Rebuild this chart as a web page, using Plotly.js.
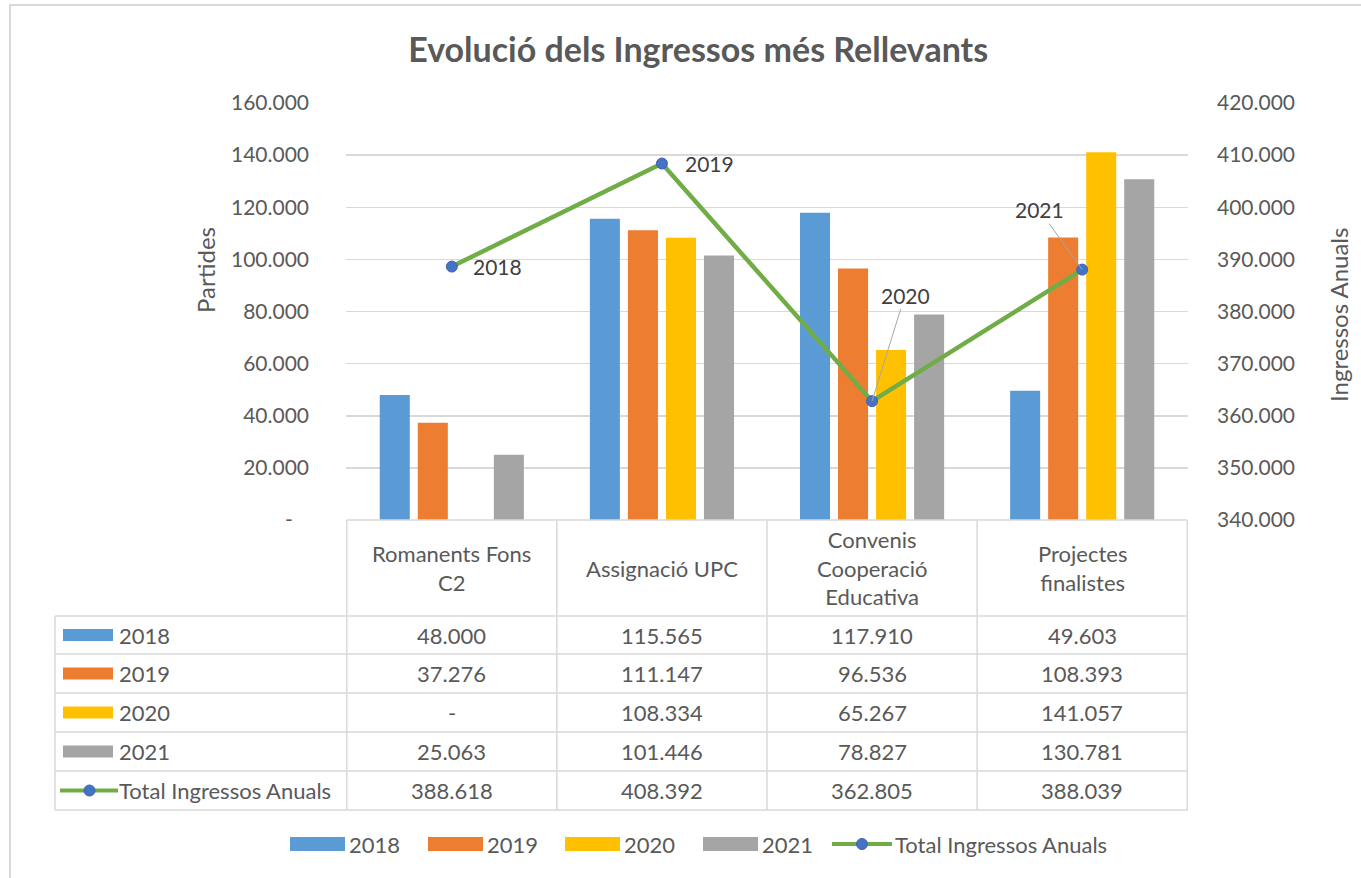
<!DOCTYPE html>
<html><head><meta charset="utf-8">
<script src="https://cdn.plot.ly/plotly-3.0.1.min.js"></script>
<style>html,body{margin:0;padding:0;background:#fff}</style>
</head><body><div id="chart" style="width:1361px;height:878px"></div>
<script>
// ---- data ----
const categories = ['Romanents Fons C2', 'Assignació UPC', 'Convenis Cooperació Educativa', 'Projectes finalistes'];
const headerLabels = ['Romanents Fons<br>C2', 'Assignació UPC', 'Convenis<br>Cooperació<br>Educativa', 'Projectes<br>finalistes'];
const years = ['2018', '2019', '2020', '2021'];
const v2018 = [48000, 115565, 117910, 49603];
const v2019 = [37276, 111147, 96536, 108393];
const v2020 = [0, 108334, 65267, 141057];
const v2021 = [25063, 101446, 78827, 130781];
const totals = [388618, 408392, 362805, 388039];
const totalName = 'Total Ingressos Anuals';
const pointLabels = ['2018', '2019', '2020', '2021'];
const leftTickVals = [0, 20000, 40000, 60000, 80000, 100000, 120000, 140000, 160000];
const leftTickText = ['-\u00a0\u00a0\u00a0', '20.000', '40.000', '60.000', '80.000', '100.000', '120.000', '140.000', '160.000'];
const rightTickVals = [340000, 350000, 360000, 370000, 380000, 390000, 400000, 410000, 420000];
const rightTickText = ['340.000', '350.000', '360.000', '370.000', '380.000', '390.000', '400.000', '410.000', '420.000'];
const title = 'Evolució dels Ingressos més Rellevants';
const leftTitle = 'Partides';
const rightTitle = 'Ingressos Anuals';

// ---- styles ----
const colors = ['#5B9BD5', '#ED7D31', '#FFC000', '#A5A5A5'];
const lineColor = '#70AD47';
const markerColor = '#4472C4';
const gridColor = '#D9D9D9';
const textColor = '#595959';
const FONT = 'Lato, "Open Sans", sans-serif';
const FS = 22;      // table / legend text
const TICKFS = 21;  // tick labels

const W = 1361, H = 878;
const L = 346, R = 1188, T = 103, B = 520;
const px = x => (x - L) / (R - L);
const py = y => (B - y) / (B - T);

const fmt = v => v === 0 ? '-' : v.toLocaleString('de-DE');

const series = [v2018, v2019, v2020, v2021];
const traces = series.map((vals, i) => ({
  type: 'bar', name: years[i], x: categories, y: vals,
  marker: {color: colors[i]}, hoverinfo: 'x+y'
}));
traces.push({
  type: 'scatter', mode: 'lines+markers', name: totalName, x: categories, y: totals, yaxis: 'y2',
  line: {color: lineColor, width: 4.5},
  marker: {color: markerColor, size: 11, line: {color: '#3A64B0', width: 1}}
});

const shapes = [];
const annotations = [];

// outer border
shapes.push({type: 'rect', xref: 'paper', yref: 'paper', x0: px(10), x1: px(1380), y0: py(5), y1: py(900),
  line: {color: '#D9D9D9', width: 2}});

// table grid
const rowEdges = [520, 616, 654, 693, 732, 771, 810];
const tableLeft = 55;
const lineStyle = {color: gridColor, width: 1.5};
shapes.push({type: 'line', xref: 'x', yref: 'paper', x0: -0.5, x1: categories.length - 0.5, y0: py(520), y1: py(520), line: lineStyle});
for (let r = 1; r < rowEdges.length; r++) {
  shapes.push({type: 'line', xref: 'paper', yref: 'paper', x0: px(tableLeft), x1: 1, y0: py(rowEdges[r]), y1: py(rowEdges[r]), line: lineStyle});
}
shapes.push({type: 'line', xref: 'paper', yref: 'paper', x0: px(tableLeft), x1: px(tableLeft), y0: py(616), y1: py(810), line: lineStyle});
for (let c = 0; c <= categories.length; c++) {
  shapes.push({type: 'line', xref: 'x', yref: 'paper', x0: c - 0.5, x1: c - 0.5, y0: py(520), y1: py(810), line: lineStyle});
}

// header labels
headerLabels.forEach((h, i) => {
  annotations.push({xref: 'x', yref: 'paper', x: i, y: py(568), text: h, showarrow: false,
    font: {family: FONT, size: FS, color: textColor}, align: 'center', xanchor: 'center', yanchor: 'middle'});
});
// data rows
const rowNames = years.concat([totalName]);
const rowData = series.concat([totals]);
rowData.forEach((vals, r) => {
  const yc = (rowEdges[r + 1] + rowEdges[r + 2]) / 2;
  vals.forEach((v, i) => {
    annotations.push({xref: 'x', yref: 'paper', x: i, y: py(yc), text: fmt(v), showarrow: false,
      font: {family: FONT, size: FS, color: textColor}, xanchor: 'center', yanchor: 'middle'});
  });
  annotations.push({xref: 'paper', yref: 'paper', x: px(117), y: py(yc), text: rowNames[r], showarrow: false,
    font: {family: FONT, size: FS, color: textColor}, xanchor: 'left', yanchor: 'middle'});
  if (r < 4) {
    shapes.push({type: 'rect', xref: 'paper', yref: 'paper', x0: px(63), x1: px(113), y0: py(yc - 6), y1: py(yc + 6),
      fillcolor: colors[r], line: {width: 0}});
  } else {
    shapes.push({type: 'line', xref: 'paper', yref: 'paper', x0: px(60), x1: px(118), y0: py(yc), y1: py(yc),
      line: {color: lineColor, width: 4}});
    shapes.push({type: 'circle', xref: 'paper', yref: 'paper', x0: px(84), x1: px(95), y0: py(yc - 5.5), y1: py(yc + 5.5),
      fillcolor: markerColor, line: {color: '#3A64B0', width: 1}});
  }
});

// bottom legend
const legY = 844;
const legX = [290, 428, 565, 703];
years.forEach((yr, i) => {
  shapes.push({type: 'rect', xref: 'paper', yref: 'paper', x0: px(legX[i]), x1: px(legX[i] + 55), y0: py(legY - 7), y1: py(legY + 7),
    fillcolor: colors[i], line: {width: 0}});
  annotations.push({xref: 'paper', yref: 'paper', x: px(legX[i] + 57), y: py(legY), text: yr, showarrow: false,
    font: {family: FONT, size: FS, color: textColor}, xanchor: 'left', yanchor: 'middle'});
});
shapes.push({type: 'line', xref: 'paper', yref: 'paper', x0: px(832), x1: px(892), y0: py(legY), y1: py(legY),
  line: {color: lineColor, width: 4}});
shapes.push({type: 'circle', xref: 'paper', yref: 'paper', x0: px(856.5), x1: px(867.5), y0: py(legY - 5.5), y1: py(legY + 5.5),
  fillcolor: markerColor, line: {color: '#3A64B0', width: 1}});
annotations.push({xref: 'paper', yref: 'paper', x: px(893), y: py(legY), text: totalName, showarrow: false,
  font: {family: FONT, size: FS, color: textColor}, xanchor: 'left', yanchor: 'middle'});

// point labels
const labelOffsets = [
  {showarrow: false, xanchor: 'left', xshift: 19},
  {showarrow: false, xanchor: 'left', xshift: 21},
  {showarrow: true, ax: 33, ay: -106},
  {showarrow: true, ax: -43, ay: -60}
];
pointLabels.forEach((t, i) => {
  annotations.push(Object.assign({xref: 'x', yref: 'y2', x: categories[i], y: totals[i], text: t,
    font: {family: FONT, size: 21, color: '#404040'}, arrowhead: 0, arrowwidth: 1, arrowcolor: '#A6A6A6', standoff: 0, yanchor: 'middle'}, labelOffsets[i]));
});

// axis titles
annotations.push({xref: 'paper', yref: 'paper', x: px(205), y: py(270), text: leftTitle, showarrow: false, textangle: -90,
  font: {family: FONT, size: 24, color: textColor}, xanchor: 'center', yanchor: 'middle'});
annotations.push({xref: 'paper', yref: 'paper', x: px(1338), y: py(315), text: rightTitle, showarrow: false, textangle: -90,
  font: {family: FONT, size: 24, color: textColor}, xanchor: 'center', yanchor: 'middle'});

const layout = {
  width: W, height: H,
  margin: {l: L, r: W - R, t: T, b: H - B, pad: 0},
  paper_bgcolor: '#fff', plot_bgcolor: '#fff',
  font: {family: FONT, size: FS, color: textColor},
  title: {text: title, x: 0.513, xanchor: 'center', xref: 'container', y: 1 - 50 / H, yanchor: 'middle', yref: 'container',
    font: {family: FONT, size: 34, color: textColor, weight: 'bold'}},
  showlegend: false,
  barmode: 'group', bargap: 0.276, bargroupgap: 0.21,
  xaxis: {type: 'category', showticklabels: false, showgrid: false, zeroline: false, showline: false, ticks: '', fixedrange: true},
  yaxis: {range: [0, 160000], tickvals: leftTickVals, ticktext: leftTickText, showgrid: true, gridcolor: gridColor, gridwidth: 1.5,
    zeroline: false, showline: false, ticks: '', ticklabelstandoff: 36, tickfont: {family: FONT, size: TICKFS, color: textColor}},
  yaxis2: {range: [340000, 420000], tickvals: rightTickVals, ticktext: rightTickText, overlaying: 'y', side: 'right',
    showgrid: false, zeroline: false, showline: false, ticks: '', ticklabelstandoff: 28, tickfont: {family: FONT, size: TICKFS, color: textColor}},
  shapes: shapes,
  annotations: annotations
};

Plotly.newPlot('chart', traces, layout, {displayModeBar: false, staticPlot: true});
</script>
</body></html>
